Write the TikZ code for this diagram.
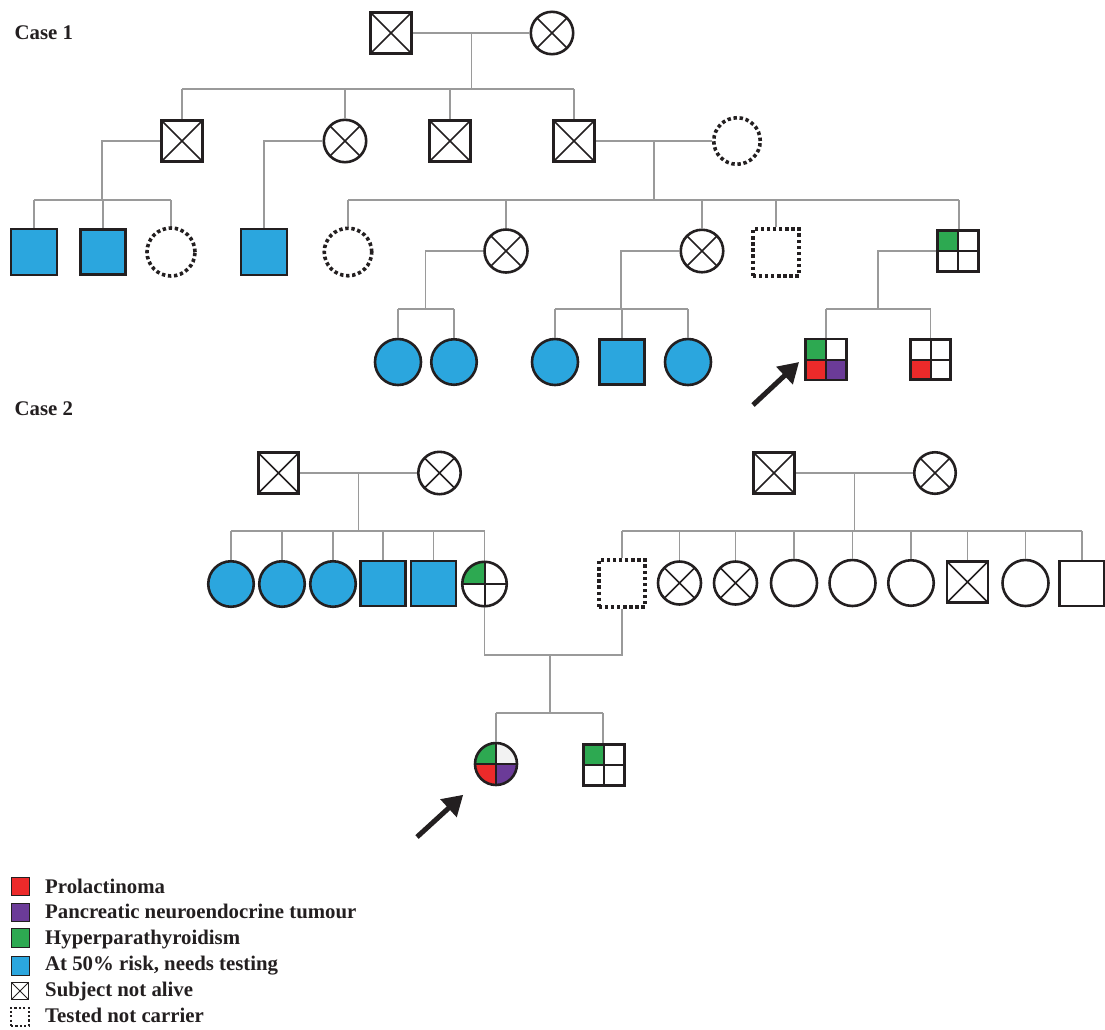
\documentclass[tikz,border=0pt]{standalone}
\usepackage{fontspec}
\setmainfont{Liberation Serif}
\usetikzlibrary{calc,arrows.meta}
\definecolor{ink}{HTML}{231F20}
\definecolor{conncol}{HTML}{9A9A9A}
\definecolor{cblue}{HTML}{2BA6DE}
\definecolor{cgreen}{HTML}{2DA951}
\definecolor{cred}{HTML}{EC2A2A}
\definecolor{cpurple}{HTML}{6B3B98}
\definecolor{clight}{HTML}{F2F2F2}
\tikzset{
  sq/.style={rectangle, draw=ink, line width=2.8pt, minimum size=#1, inner sep=0pt},
  sq/.default=41.2pt,
  ci/.style={circle, draw=ink, line width=2.6pt, minimum size=#1, inner sep=0pt},
  ci/.default=42.4pt,
  notcarrier/.style={draw=ink, line width=3.6pt, dash pattern=on 3.4pt off 2.7pt},
  ncc/.style={circle, notcarrier, minimum size=#1, inner sep=0pt},
  ncc/.default=47pt,
  ncs/.style={rectangle, notcarrier, minimum size=#1, inner sep=0pt},
  ncs/.default=46.5pt,
  dead/.style={path picture={
    \draw[ink, line width=#1]
      (path picture bounding box.north west) -- (path picture bounding box.south east)
      (path picture bounding box.north east) -- (path picture bounding box.south west);}},
  dead/.default=1.5pt,
  quad/.style n args={4}{path picture={
    \fill[#1] (path picture bounding box.north west) rectangle (path picture bounding box.center);
    \fill[#2] (path picture bounding box.north east) rectangle (path picture bounding box.center);
    \fill[#3] (path picture bounding box.south west) rectangle (path picture bounding box.center);
    \fill[#4] (path picture bounding box.south east) rectangle (path picture bounding box.center);
    \draw[ink, line width=2pt]
      (path picture bounding box.north) -- (path picture bounding box.south)
      (path picture bounding box.west) -- (path picture bounding box.east);}},
  conn/.style={draw=conncol, line width=1.4pt},
  arr/.style={draw=ink, line width=5pt, -{Triangle[length=20pt,width=23pt]}},
  lbl/.style={anchor=base west, inner sep=0pt, font=\fontsize{20.8}{24}\selectfont\bfseries, text=ink},
  legsq/.style={rectangle, draw=ink, line width=0.9pt, minimum size=18.5pt, inner sep=0pt}
}
\begin{document}
\begin{tikzpicture}[x=1pt,y=-1pt]
\useasboundingbox (0,0) rectangle (1105,1029);
\clip (0,0) rectangle (1105,1029);
\fill[white] (0,0) rectangle (1105,1029);

% ---------------- Case 1 ----------------
\node[lbl] (case1) at (14.5,39) {Case 1};

\node[sq, dead] (A1) at (391,33) {};
\node[ci, dead] (A2) at (552,33) {};

\node[sq, dead] (B1) at (182,141) {};
\node[ci, dead] (B2) at (345,141) {};
\node[sq, dead] (B3) at (450,141) {};
\node[sq, dead] (B4) at (574,141) {};
\node[ncc=46.5pt] (B5) at (737,141) {};

\node[sq=46pt, fill=cblue] (C1) at (34,252) {};
\node[sq=45.5pt, fill=cblue] (C2) at (103,252) {};
\node[ncc=48pt] (C3) at (171,252) {};
\node[sq=46pt, fill=cblue] (C4) at (264,252) {};
\node[ncc=47.5pt] (C5) at (348,252) {};
\node[ci=43pt, dead] (C6) at (506,251) {};
\node[ci=42.5pt, dead] (C7) at (702,251) {};
\node[ncs=46.5pt] (C8) at (776,252.5) {};
\node[sq=40.5pt, quad={cgreen}{white}{white}{white}] (C9) at (958,251) {};

\node[ci=46pt, fill=cblue] (D1) at (398,362) {};
\node[ci=45.5pt, fill=cblue] (D2) at (454,362) {};
\node[ci=46pt, fill=cblue] (D3) at (555,362) {};
\node[sq=45.5pt, fill=cblue] (D4) at (622,362) {};
\node[ci=46pt, fill=cblue] (D5) at (688,362) {};
\node[sq=41pt, quad={cgreen}{white}{cred}{cpurple}] (D6) at (826,359.5) {};
\node[sq=40.5pt, quad={white}{white}{cred}{white}] (D7) at (930.5,359.5) {};

% connectors case 1
\draw[conn] (A1.east) -- (A2.west);
\coordinate (mA) at ($(A1.east)!0.5!(A2.west)$);
\coordinate (sibA) at (471,89);
\draw[conn] (mA) -- (mA |- sibA);
\draw[conn] (B1.north |- sibA) -- (B4.north |- sibA);
\foreach \n in {B1,B2,B3,B4} \draw[conn] (\n.north) -- (\n.north |- sibA);

\coordinate (sibB1) at (102,200);
\draw[conn] (B1.west) -| (sibB1);
\draw[conn] (C1.north |- sibB1) -- (C3.north |- sibB1);
\foreach \n in {C1,C2,C3} \draw[conn] (\n.north) -- (\n.north |- sibB1);

\draw[conn] (B2.west) -| (C4.north);

\draw[conn] (B4.east) -- (B5.west);
\coordinate (mB) at ($(B4.east)!0.5!(B5.west)$);
\coordinate (sibB) at (653,200);
\draw[conn] (mB) -- (mB |- sibB);
\draw[conn] (C5.north |- sibB) -- ([xshift=1pt]C9.north |- sibB);
\foreach \n in {C5,C6,C7,C8} \draw[conn] (\n.north) -- (\n.north |- sibB);
\draw[conn] ([xshift=1pt]C9.north) -- ([xshift=1pt]C9.north |- sibB);

\coordinate (sibC6) at (425.5,309);
\draw[conn] (C6.west) -| (sibC6);
\draw[conn] (D1.north |- sibC6) -- (D2.north |- sibC6);
\foreach \n in {D1,D2} \draw[conn] (\n.north) -- (\n.north |- sibC6);

\coordinate (sibC7) at (621,309);
\draw[conn] (C7.west) -| (sibC7);
\draw[conn] (D3.north |- sibC7) -- (D5.north |- sibC7);
\foreach \n in {D3,D4,D5} \draw[conn] (\n.north) -- (\n.north |- sibC7);

\coordinate (sibC9) at (878,309);
\draw[conn] (C9.west) -| (sibC9);
\draw[conn] (D6.north |- sibC9) -- (D7.north |- sibC9);
\foreach \n in {D6,D7} \draw[conn] (\n.north) -- (\n.north |- sibC9);

\coordinate (t1) at (753,405);
\draw[arr] (t1) -- ([xshift=-5pt,yshift=-2.5pt]D6.west);

% ---------------- Case 2 ----------------
\node[lbl] (case2) at (14.5,415) {Case 2};

\node[sq=40.5pt, dead] (E1) at (278.5,473) {};
\node[ci, dead] (E2) at (439.5,473) {};
\node[sq, dead] (E3) at (774,473) {};
\node[ci=41.5pt, dead] (E4) at (935,473) {};

\node[ci=45.5pt, fill=cblue] (F1) at (231,584) {};
\node[ci=45.5pt, fill=cblue] (F2) at (282,584) {};
\node[ci=45.5pt, fill=cblue] (F3) at (333,584) {};
\node[sq=45pt, fill=cblue] (F4) at (383,583.5) {};
\node[sq=45pt, fill=cblue] (F5) at (433.5,583.5) {};
\node[ci=44.5pt, quad={cgreen}{white}{white}{white}] (F6) at (484.5,584) {};

\node[ncs=46.5pt] (G1) at (622,583.5) {};
\node[ci=43pt, dead] (G2) at (679.5,583) {};
\node[ci=43pt, dead] (G3) at (735.5,583) {};
\node[ci=46pt] (G4) at (794,583) {};
\node[ci=46pt] (G5) at (852.5,583) {};
\node[ci=45.5pt] (G6) at (911,583) {};
\node[sq=41pt, dead] (G7) at (967.5,582) {};
\node[ci=46pt] (G8) at (1025.5,583) {};
\node[sq=45pt] (G9) at (1082,583.5) {};

\node[ci=42pt, quad={cgreen}{clight}{cred}{cpurple}] (H1) at (496,764) {};
\node[sq=41pt, quad={cgreen}{white}{white}{white}] (H2) at (604,765) {};

% connectors case 2
\draw[conn] (E1.east) -- (E2.west);
\coordinate (mE) at ($(E1.east)!0.5!(E2.west)$);
\coordinate (sibE) at (358,531);
\draw[conn] (mE) -- (mE |- sibE);
\draw[conn] (F1.north |- sibE) -- (F6.north |- sibE);
\foreach \n in {F1,F2,F3,F4,F5,F6} \draw[conn] (\n.north) -- (\n.north |- sibE);

\draw[conn] (E3.east) -- (E4.west);
\coordinate (mE3) at ($(E3.east)!0.5!(E4.west)$);
\coordinate (sibE3) at (853,531);
\draw[conn] (mE3) -- (mE3 |- sibE3);
\draw[conn] (G1.north |- sibE3) -- (G9.north |- sibE3);
\foreach \n in {G1,G2,G3,G4,G5,G6,G7,G8,G9} \draw[conn] (\n.north) -- (\n.north |- sibE3);

\coordinate (cpl) at (550,655);
\draw[conn] (F6.south) |- (cpl) -| (G1.south);
\coordinate (sibH) at (550,713);
\draw[conn] (cpl) -- (sibH);
\draw[conn] (H1.north |- sibH) -- ([xshift=-1pt]H2.north |- sibH);
\draw[conn] (H1.north) -- (H1.north |- sibH);
\draw[conn] ([xshift=-1pt]H2.north) -- ([xshift=-1pt]H2.north |- sibH);

\coordinate (t2) at (417,837);
\draw[arr] (t2) -- ([xshift=-17pt,yshift=-15pt]H1.south west);

% ---------------- Legend ----------------
\node[legsq, fill=cred] (L1) at (20.3,886.5) {};
\node[legsq, fill=cpurple] (L2) at (20.3,912.5) {};
\node[legsq, fill=cgreen] (L3) at (20.3,938) {};
\node[legsq, fill=cblue] (L4) at (20.3,966) {};
\node[legsq, dead=0.9pt, minimum size=17.5pt] (L5) at (20,991) {};
\node[rectangle, draw=ink, line width=2pt, dash pattern=on 2.2pt off 2.2pt, minimum size=18pt, inner sep=0pt] (L6) at (20,1016.5) {};

\node[lbl] (T1) at (45,893) {Prolactinoma};
\node[lbl] (T2) at (45,918.5) {Pancreatic neuroendocrine tumour};
\node[lbl] (T3) at (45,944) {Hyperparathyroidism};
\node[lbl] (T4) at (45,970) {At 50\% risk, needs testing};
\node[lbl] (T5) at (45,996.5) {Subject not alive};
\node[lbl] (T6) at (45,1022.5) {Tested not carrier};
\end{tikzpicture}
\end{document}
